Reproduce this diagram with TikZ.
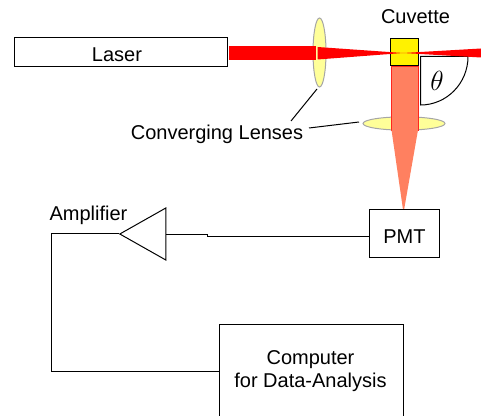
\documentclass[tikz,border=0pt]{standalone}
\usepackage{amsmath}
\usepackage{fontspec}
\setmainfont{Liberation Sans}
\usetikzlibrary{shapes.geometric}
\definecolor{lensyellow}{HTML}{FFFF99}
\definecolor{beamred}{HTML}{FF0000}
\definecolor{beamorange}{HTML}{FF8060}

\begin{document}
\begin{tikzpicture}[x=0.75pt, y=-0.75pt, line width=0.75pt,
    box/.style={draw=black, fill=white, inner sep=0pt},
    lens/.style={ellipse, draw=black!35, fill=lensyellow, inner sep=0pt},
    label/.style={inner sep=0pt, font=\fontsize{15}{17.25}\selectfont}]
\useasboundingbox (0,0) rectangle (481,416);

% Lenses
\node[lens, minimum width=9.75pt, minimum height=51.75pt] (lensA) at (319.5,52.5) {};
\node[lens, minimum width=61.5pt, minimum height=10pt] (lensB) at (404,123.5) {};

% Scattering angle
\coordinate (pivot) at (420.5,56.5);
\draw (468,56.5) arc [start angle=0, end angle=90, x radius=47.5, y radius=48.5] -- (pivot) -- (468,56.5);
\node[inner sep=0pt] (angle) at (437,81) {\fontsize{22}{22}\selectfont$\theta$};

% Cuvette
\node[draw=black, fill=yellow, minimum width=21pt, minimum height=20.25pt, inner sep=0pt] (cuvette) at (404,52.5) {};
\node[label] (cuvettetext) at (415.5,17) {Cuvette};

% Laser beam
\fill[beamred] (229,46) -- (316,46) -- (316,60) -- (229,60) -- cycle;
\fill[beamred] (317.5,47) -- (403,53) -- (481,48.5) -- (481,57.5) -- (403,53) -- (317.5,59.5) -- cycle;

% Fluorescence beam
\filldraw[fill=beamorange, draw=red!70!beamorange, line width=0.5pt] (391.5,66.5) -- (418,66.5) -- (418,130) -- (391.5,130) -- cycle;
\fill[beamorange] (391.5,130) -- (418,130) -- (403.5,213) -- cycle;

% Boxes
\node[box, minimum width=159.75pt, minimum height=21.75pt] (laser) at (120.5,52.5) {};
\node[label] (lasertext) at (117,54.5) {Laser};
\node[box, minimum width=52.5pt, minimum height=36pt] (pmt) at (404,234) {};
\node[label] (pmttext) at (404.5,237) {PMT};
\node[box, minimum width=138pt, minimum height=75pt] (computer) at (311,374) {};
\node[label, align=center] (computertext) at (310.5,371) {Computer\\for Data-Analysis};

% Amplifier
\node[isosceles triangle, isosceles triangle stretches, shape border rotate=180, draw=black, fill=white,
  minimum width=39pt, minimum height=34.5pt, inner sep=0pt, anchor=apex] (amp) at (118.5,234) {};
\node[label] (amptext) at (88.5,215.5) {Amplifier};

% Labels and leader lines
\node[label] (lenstext) at (217,134) {Converging Lenses};
\coordinate (leadA) at (317,89);
\coordinate (leadB) at (359,122);
\draw (leadA) -- (291,121);
\draw (309,128) -- (leadB);

% Signal path
\coordinate (bendA) at (207,236.5);
\coordinate (bendB) at (207,235);
\coordinate (cornerA) at (51,234);
\coordinate (cornerB) at (51,371.5);
\draw (pmt.west |- bendA) -- (bendA) -- (bendB) -- (amp.east |- bendB);
\draw (amp.apex) -- (cornerA) -- (cornerB) -- (computer.west |- cornerB);
\end{tikzpicture}
\end{document}
